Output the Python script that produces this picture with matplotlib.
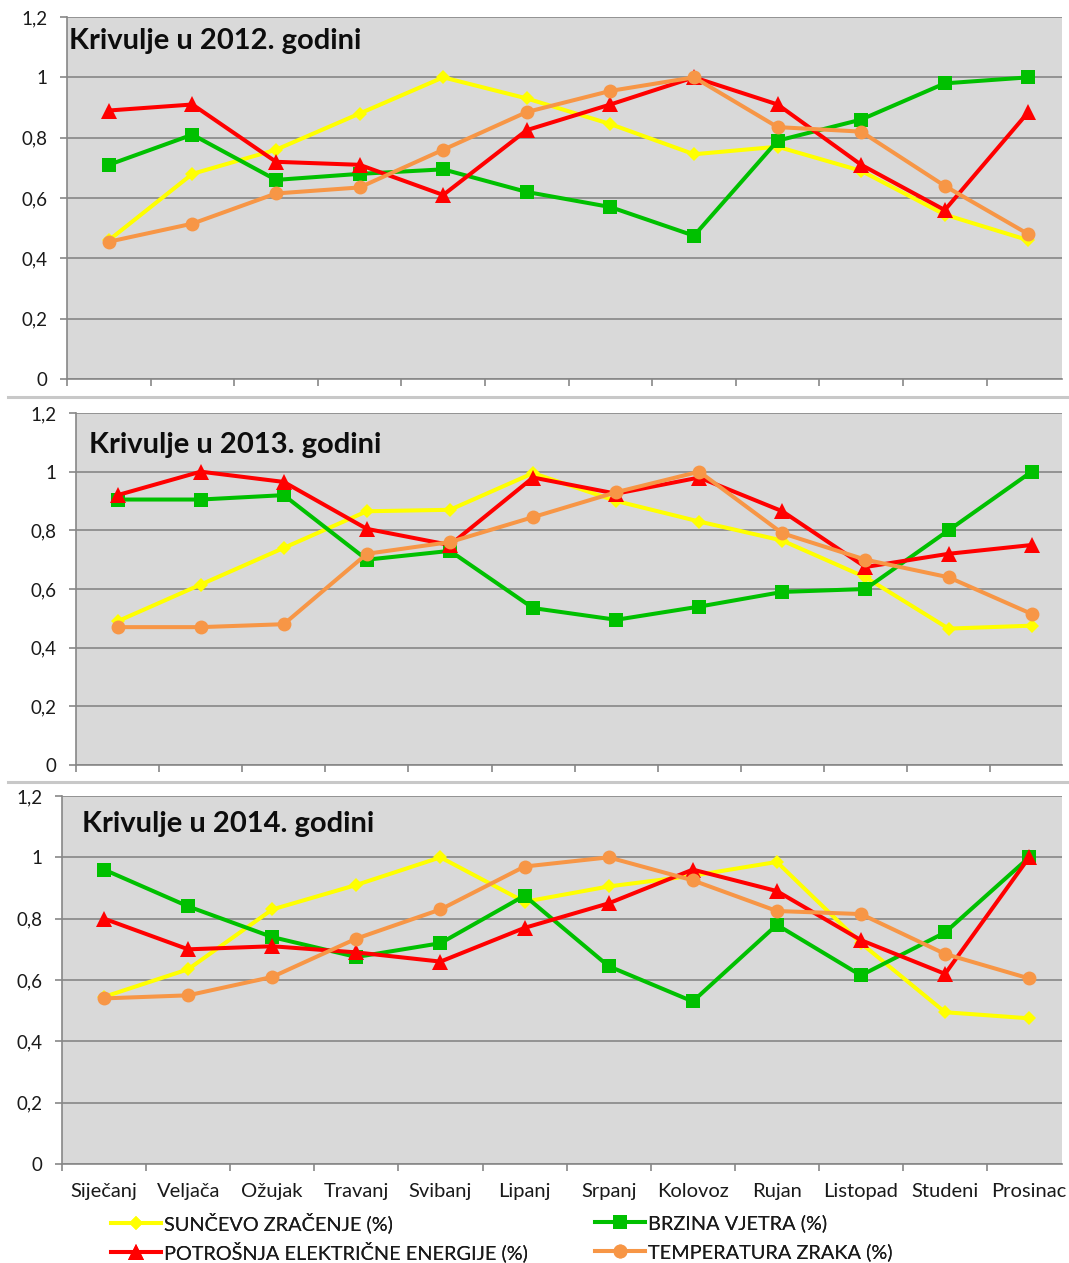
import matplotlib
matplotlib.use("Agg")
import matplotlib.pyplot as plt
from matplotlib.lines import Line2D

plt.rcParams['font.family'] = ['Lato', 'DejaVu Sans']

W, H = 1069, 1263

months = ["Siječanj", "Veljača", "Ožujak", "Travanj", "Svibanj", "Lipanj",
          "Srpanj", "Kolovoz", "Rujan", "Listopad", "Studeni", "Prosinac"]
series_names = ["SUNČEVO ZRAČENJE (%)", "BRZINA VJETRA (%)",
                "POTROŠNJA ELEKTRIČNE ENERGIJE (%)", "TEMPERATURA ZRAKA (%)"]
years = ["2012", "2013", "2014"]

# 2012
sun_2012 = [0.46, 0.68, 0.76, 0.88, 1.00, 0.93, 0.845, 0.745, 0.77, 0.69, 0.545, 0.46]
wind_2012 = [0.71, 0.81, 0.66, 0.68, 0.695, 0.62, 0.57, 0.475, 0.79, 0.86, 0.98, 1.00]
power_2012 = [0.89, 0.91, 0.72, 0.71, 0.61, 0.825, 0.91, 1.00, 0.91, 0.71, 0.56, 0.885]
temp_2012 = [0.455, 0.515, 0.615, 0.635, 0.76, 0.885, 0.955, 1.00, 0.835, 0.82, 0.64, 0.48]
# 2013
sun_2013 = [0.49, 0.615, 0.74, 0.865, 0.87, 0.995, 0.90, 0.83, 0.765, 0.64, 0.465, 0.475]
wind_2013 = [0.905, 0.905, 0.92, 0.70, 0.73, 0.535, 0.495, 0.54, 0.59, 0.60, 0.80, 1.00]
power_2013 = [0.92, 1.00, 0.965, 0.805, 0.75, 0.98, 0.925, 0.98, 0.865, 0.675, 0.72, 0.75]
temp_2013 = [0.47, 0.47, 0.48, 0.72, 0.76, 0.845, 0.93, 1.00, 0.79, 0.70, 0.64, 0.515]
# 2014
sun_2014 = [0.545, 0.635, 0.83, 0.91, 1.00, 0.855, 0.905, 0.94, 0.985, 0.72, 0.495, 0.475]
wind_2014 = [0.96, 0.84, 0.74, 0.675, 0.72, 0.875, 0.645, 0.53, 0.78, 0.615, 0.755, 1.00]
power_2014 = [0.80, 0.70, 0.71, 0.69, 0.66, 0.77, 0.85, 0.96, 0.89, 0.73, 0.62, 1.00]
temp_2014 = [0.54, 0.55, 0.61, 0.735, 0.83, 0.97, 1.00, 0.925, 0.825, 0.815, 0.685, 0.605]

yticks = [0, 0.2, 0.4, 0.6, 0.8, 1.0, 1.2]
ytick_labels = ["0", "0,2", "0,4", "0,6", "0,8", "1", "1,2"]

data = {
    "2012": [sun_2012, wind_2012, power_2012, temp_2012],
    "2013": [sun_2013, wind_2013, power_2013, temp_2013],
    "2014": [sun_2014, wind_2014, power_2014, temp_2014],
}

colors = ["#FFFF00", "#00C000", "#FF0000", "#F79646"]
markers = ["D", "s", "^", "o"]
msizes = [7, 10, 11, 10]
LW = 2.9

# panel geometry in pixels: x0, x1, ytop(1.2), ybot(0), category spacing, title pos
panels = [
    (67, 1062, 17, 379, 83.6, (69, 41)),
    (76, 1062, 413, 765, 83.1, (89, 445)),
    (62, 1062, 796, 1164, 84.1, (82, 824)),
]

fig = plt.figure(figsize=(W / 100, H / 100), dpi=100)
fig.patch.set_facecolor("white")

grid_col = "#878787"
for k, (yr, (x0, x1, yt, yb, sp, tpos)) in enumerate(zip(years, panels)):
    ax = fig.add_axes([x0 / W, 1 - yb / H, (x1 - x0) / W, (yb - yt) / H])
    ax.set_facecolor("#D9D9D9")
    xs = [i + 0.5 for i in range(len(months))]
    for s, vals in enumerate(data[yr]):
        ax.plot(xs, vals, color=colors[s], marker=markers[s], markersize=msizes[s],
                linewidth=LW, markeredgewidth=0, zorder=3 + s, clip_on=False)
    ax.set_xlim(0, (x1 - x0) / sp)
    ax.set_ylim(0, 1.2)
    ax.set_yticks(yticks)
    ax.set_yticklabels(ytick_labels)
    ax.yaxis.grid(True, color=grid_col, linewidth=1.2)
    ax.set_axisbelow(True)
    ax.set_xticks(range(0, 12))
    ax.set_xticklabels([])
    ax.set_xticks(xs, minor=True)
    if k == 2:
        ax.set_xticklabels(months, minor=True)
    else:
        ax.set_xticklabels([], minor=True)
    ax.tick_params(axis="x", which="major", direction="out", length=5, width=1.2,
                   color=grid_col)
    ax.tick_params(axis="x", which="minor", length=0, pad=14, labelsize=14.5,
                   labelcolor="#1a1a1a")
    ax.tick_params(axis="y", direction="out", length=5, width=1.2, color=grid_col,
                   pad=9, labelsize=13.5, labelcolor="#1a1a1a")
    for side in ["top", "right"]:
        ax.spines[side].set_visible(False)
    for side in ["left", "bottom"]:
        ax.spines[side].set_color(grid_col)
        ax.spines[side].set_linewidth(1.2)
    fig.text(tpos[0] / W, 1 - tpos[1] / H, f"Krivulje u {yr}. godini",
             fontsize=21, fontweight="bold", color="#0d0d0d", va="center", ha="left")

# separator lines between panels
for ysep in [397, 782]:
    fig.add_artist(Line2D([8 / W, 1], [1 - ysep / H, 1 - ysep / H],
                          color="#C8C8C8", linewidth=2.2))

# legend: one entry per position so rows line up exactly
legend_pos = {0: (111, 1223), 2: (111, 1252), 1: (595, 1223), 3: (595, 1252)}
for i, (xpx, ypx) in legend_pos.items():
    h = Line2D([], [], color=colors[i], marker=markers[i], markersize=msizes[i],
               linewidth=LW, markeredgewidth=0)
    leg = fig.legend([h], [series_names[i]], loc="center left",
                     bbox_to_anchor=(xpx / W, 1 - ypx / H), frameon=False,
                     fontsize=14.3, handlelength=2.5, handletextpad=0.15,
                     borderpad=0, borderaxespad=0)
    for t in leg.get_texts():
        t.set_color("#1a1a1a")
    fig.add_artist(leg)

fig.savefig("out.png", dpi=100)
